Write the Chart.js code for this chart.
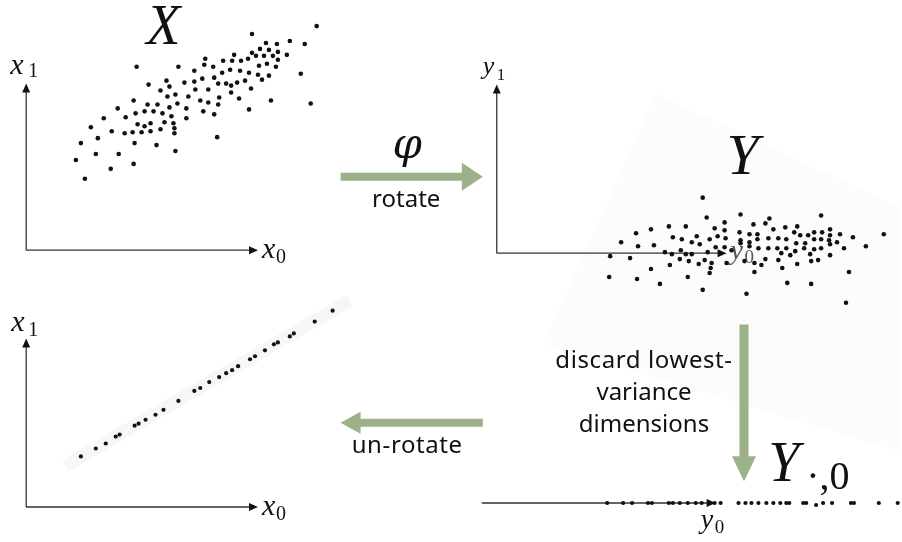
<!DOCTYPE html>
<html><head><meta charset="utf-8">
<script src="https://cdn.jsdelivr.net/npm/chart.js@4.4.1/dist/chart.umd.min.js"></script>
<style>html,body{margin:0;padding:0;background:#fff;overflow:hidden}#wrap{position:relative;width:902px;height:542px}
.pre{position:absolute;left:-2000px;top:0;font-size:20px}</style>
</head><body>
<span class="pre" style="font-family:'Liberation Serif';font-style:italic">Xx</span>
<span class="pre" style="font-family:'Liberation Serif'">01</span>
<span class="pre" style="font-family:'DejaVu Serif';font-style:italic">φ</span>
<span class="pre" style="font-family:'Noto Sans'">rotate</span>
<div id="wrap"><canvas id="c"></canvas></div>
<script>
// ---- data (abstract units) ----
// X : original 2-D data
const originalX0 = [292,227,265,280,241,252,235,244,253,262,227,209,
231,239,248,223,180,198,207,216,253,179,188,153,
111,234,242,251,169,205,215,197,224,233,244,237,
276,189,177,159,141,123,169,193,201,212,220,206,
226,183,170,135,144,206,214,246,286,163,175,183,
194,193,150,142,132,122,108,152,144,128,119,110,
92,78,100,161,161,178,189,224,137,146,112,119,
125,139,148,149,149,135,125,116,107,99,86,65,
55,72,109,131,192,150,93,70,50,108,85,59];
const originalX1 = [226,218,211,208,209,208,203,202,200,197,199,197,
196,196,196,193,193,191,191,191,192,187,185,185,
185,186,188,185,181,182,181,179,179,177,176,172,
178,174,173,169,171,167,170,168,168,169,171,166,
163,162,162,161,165,159,153,151,148,155,151,149,
154,147,157,155,147,147,151,148,144,140,140,138,
143,133,134,143,133,140,137,142,138,135,127,125,
128,129,128,123,118,122,120,119,119,118,120,124,
108,113,108,106,114,100,97,97,91,87,82,72];
// Y : rotated data
const rotatedY0 = [208,212,246,327,275,271,259,230,191,174,156,141,
126,143,159,220,230,245,255,263,279,291,303,300,
306,314,320,328,336,336,346,359,390,372,350,343,
335,327,320,311,302,292,284,274,263,255,246,231,
223,215,202,197,205,187,178,170,177,186,191,197,
213,221,230,237,246,255,264,274,283,292,301,310,
320,327,336,287,296,316,336,115,135,156,175,185,
194,204,210,217,216,215,232,250,260,267,271,284,
288,303,317,324,260,355,114,142,165,193,208,252,
293,317,352];
const rotatedY1 = [56,36,39,38,35,30,29,31,27,27,24,20,
11,7,8,25,23,21,19,19,24,26,27,21,
18,18,21,21,24,18,19,16,19,7,5,11,
13,14,14,10,10,14,15,15,14,11,13,15,
17,14,17,11,9,14,16,1,-1,3,-1,-1,
1,6,6,3,10,7,5,5,5,5,2,5,
4,5,9,0,-2,-1,-2,-3,-5,-16,-12,-6,
-8,-11,-7,-10,-15,-20,-10,-8,-10,-12,-6,-7,
-15,-11,-8,-7,-19,-19,-24,-26,-31,-24,-37,-41,
-30,-31,-50];
// Y[:,0] : kept dimension only
const projectedY0 = [112,128,137,153,157,174,178,185,193,201,207,220,226,244,251,257,264,272,279,286,292,295,309,312,322,329,338,357,360,385,404];
const projectedY1 = [0,0,0,0,0,0,0,0,0,0,0,0,0,0,0,0,0,0,0,0,0,0,0,0,-2,0,0,0,0,0,0];
// un-rotated reconstruction
const reconstructedX0 = [55,70,80,90,94,109,113,120,130,138,153,169,175,184,194,201,207,213,225,230,240,249,253,265,269,290,308];
const reconstructedX1 = [51,59,64,71,73,82,84,88,93,98,107,117,120,126,131,135,138,142,149,152,158,164,166,172,175,187,198];

const stepLabels = ['rotate', 'un-rotate', ['discard lowest-', 'variance', 'dimensions']];

// ---- styles ----
const ink = '#111111';
const axisInk = '#333333';
const green = '#9cb089';
const serifIt = 'italic {s}px "Liberation Serif"';
const serifUp = '{s}px "Liberation Serif"';
const sans = '{s}px "Noto Sans"';
const f = (t, s) => t.replace('{s}', s);

function pts(xs, ys) { return xs.map((v, i) => ({x: v, y: ys[i]})); }

function P(chart, xId, yId, x, y) {
  return [chart.scales[xId].getPixelForValue(x), chart.scales[yId].getPixelForValue(y)];
}
function axisArrow(ctx, a, b) {
  const ang = Math.atan2(b[1] - a[1], b[0] - a[0]);
  const L = 9, W = 4, c = Math.cos(ang), s = Math.sin(ang);
  ctx.save();
  ctx.strokeStyle = axisInk; ctx.lineWidth = 1.3;
  ctx.beginPath(); ctx.moveTo(a[0], a[1]); ctx.lineTo(b[0] - c * L * 0.7, b[1] - s * L * 0.7); ctx.stroke();
  ctx.fillStyle = ink; ctx.beginPath();
  ctx.moveTo(b[0], b[1]);
  ctx.lineTo(b[0] - c * L - s * W, b[1] - s * L + c * W);
  ctx.lineTo(b[0] - c * L + s * W, b[1] - s * L - c * W);
  ctx.closePath(); ctx.fill(); ctx.restore();
}
function blockArrow(ctx, a, b, sh, hh, hl) {
  const dx = b[0] - a[0], dy = b[1] - a[1], len = Math.hypot(dx, dy);
  const ux = dx / len, uy = dy / len, nx = -uy, ny = ux;
  const bx = b[0] - ux * hl, by = b[1] - uy * hl;
  ctx.save(); ctx.fillStyle = green; ctx.beginPath();
  ctx.moveTo(a[0] + nx * sh, a[1] + ny * sh);
  ctx.lineTo(bx + nx * sh, by + ny * sh);
  ctx.lineTo(bx + nx * hh, by + ny * hh);
  ctx.lineTo(b[0], b[1]);
  ctx.lineTo(bx - nx * hh, by - ny * hh);
  ctx.lineTo(bx - nx * sh, by - ny * sh);
  ctx.lineTo(a[0] - nx * sh, a[1] - ny * sh);
  ctx.closePath(); ctx.fill(); ctx.restore();
}
function text(ctx, str, p, font, color, align, spacing) {
  ctx.save(); ctx.font = font; ctx.fillStyle = color || ink;
  ctx.textAlign = align || 'left'; ctx.textBaseline = 'alphabetic';
  ctx.letterSpacing = spacing || '0px';
  ctx.fillText(str, p[0], p[1]); ctx.restore();
}

const diagram = {
  id: 'diagram',
  beforeDatasetsDraw(chart) {
    const ctx = chart.ctx;
    const Q = (x, y, a, b) => P(chart, x, y, a, b);
    // faint rotated frame behind Y
    ctx.save(); ctx.fillStyle = '#fcfcfc'; ctx.beginPath();
    [[161,161],[406,46],[406,-200],[48,-92]].forEach((v, i) => {
      const p = Q('xB','yB',v[0],v[1]); i ? ctx.lineTo(p[0], p[1]) : ctx.moveTo(p[0], p[1]);
    });
    ctx.closePath(); ctx.fill(); ctx.restore();
    // faint band behind reconstructed points
    ctx.save(); ctx.strokeStyle = '#f7f7f7'; ctx.lineWidth = 13; ctx.lineCap = 'butt';
    const b0 = Q('xA','yC',40,42), b1 = Q('xA','yC',325,208);
    ctx.beginPath(); ctx.moveTo(b0[0], b0[1]); ctx.lineTo(b1[0], b1[1]); ctx.stroke(); ctx.restore();
    // axes
    axisArrow(ctx, Q('xA','yA',0,0), Q('xA','yA',0,168));
    axisArrow(ctx, Q('xA','yA',0,0), Q('xA','yA',233,0));
    axisArrow(ctx, Q('xB','yB',1,0), Q('xB','yB',1,170));
    axisArrow(ctx, Q('xB','yB',1,0), Q('xB','yB',232,0));
    axisArrow(ctx, Q('xA','yC',0,0), Q('xA','yC',0,170));
    axisArrow(ctx, Q('xA','yC',0,0), Q('xA','yC',233,0));
    axisArrow(ctx, Q('xB','yD',-14,0), Q('xB','yD',221,0));
    // y0 label of Y panel (under points)
    text(ctx, 'y', Q('xB','yB',236,-6), f(serifIt, 28), '#555');
    text(ctx, '0', Q('xB','yB',250,-10), f(serifUp, 19), '#555');
  },
  afterDatasetsDraw(chart) {
    const ctx = chart.ctx;
    const Q = (x, y, a, b) => P(chart, x, y, a, b);
    // panel titles
    text(ctx, 'X', Q('xA','yA',138,208), f(serifIt, 56), ink, 'center');
    text(ctx, 'Y', Q('xB','yB',248,80), f(serifIt, 58), ink, 'center');
    text(ctx, 'Y', Q('xB','yD',274,22), f(serifIt, 56), ink, 'left');
    text(ctx, '·,0', Q('xB','yD',312,14), f(serifUp, 40), ink, 'left');
    // axis labels
    text(ctx, 'x', Q('xA','yA',-16,178), f(serifIt, 30));
    text(ctx, '1', Q('xA','yA',2,175), f(serifUp, 20));
    text(ctx, 'x', Q('xA','yA',237,-8), f(serifIt, 30));
    text(ctx, '0', Q('xA','yA',251,-13), f(serifUp, 20));
    text(ctx, 'y', Q('xB','yB',-13,181), f(serifIt, 26));
    text(ctx, '1', Q('xB','yB',1,175), f(serifUp, 17));
    text(ctx, 'x', Q('xA','yC',-15,177), f(serifIt, 30));
    text(ctx, '1', Q('xA','yC',2,172), f(serifUp, 20));
    text(ctx, 'x', Q('xA','yC',237,-8), f(serifIt, 30));
    text(ctx, '0', Q('xA','yC',251,-13), f(serifUp, 20));
    text(ctx, 'y', Q('xB','yD',206,-25), f(serifIt, 28));
    text(ctx, '0', Q('xB','yD',220,-30), f(serifUp, 19));
    // step arrows
    blockArrow(ctx, Q('xA','yA',316,74), Q('xA','yA',459,74), 4, 14, 21);
    text(ctx, 'φ', Q('xA','yA',383,93), 'italic 42px "DejaVu Serif"', ink, 'center');
    text(ctx, stepLabels[0], Q('xA','yA',382,44), f(sans, 24), ink, 'center');
    blockArrow(ctx, Q('xA','yC',459,85), Q('xA','yC',316,85), 4, 11, 20);
    text(ctx, stepLabels[1], Q('xA','yC',383,54), f(sans, 24), ink, 'center', '0.6px');
    blockArrow(ctx, Q('xB','yD',249.5,180), Q('xB','yD',249.5,22), 4.5, 12, 25);
    stepLabels[2].forEach((s, i) => text(ctx, s, Q('xB','yD',149,136 - 32 * i), f(sans, 24), ink, 'center', i ? '0px' : '0.6px'));
  }
};

const dot = {type: 'scatter', pointRadius: 2.3, pointHoverRadius: 2.3, pointBackgroundColor: ink, pointBorderWidth: 0, showLine: false, clip: false};

const chart = new Chart(document.getElementById('c'), {
  type: 'scatter',
  data: {
    datasets: [
      Object.assign({label: 'X', data: pts(originalX0, originalX1), xAxisID: 'xA', yAxisID: 'yA'}, dot),
      Object.assign({label: 'Y', data: pts(rotatedY0, rotatedY1), xAxisID: 'xB', yAxisID: 'yB'}, dot),
      Object.assign({label: 'reconstructed', data: pts(reconstructedX0, reconstructedX1), xAxisID: 'xA', yAxisID: 'yC'}, dot, {pointRadius: 2.1}),
      Object.assign({label: 'Y[:,0]', data: pts(projectedY0, projectedY1), xAxisID: 'xB', yAxisID: 'yD'}, dot, {pointRadius: 2.1})
    ]
  },
  options: {
    responsive: true, maintainAspectRatio: false, animation: false, events: [],
    layout: {padding: 0},
    plugins: {legend: {display: false}, tooltip: {enabled: false}},
    scales: {
      xA: {type: 'linear', position: 'bottom', display: false, min: -24, max: 878},
      yA: {type: 'linear', position: 'left', display: false, min: -292, max: 250},
      yC: {type: 'linear', position: 'left', display: false, min: -33, max: 509},
      xB: {type: 'linear', position: 'bottom', display: false, min: -496, max: 406},
      yB: {type: 'linear', position: 'left', display: false, min: -289, max: 253},
      yD: {type: 'linear', position: 'left', display: false, min: -37, max: 505}
    }
  },
  plugins: [diagram]
});
if (document.fonts) {
  Promise.all(['italic 56px "Liberation Serif"', '20px "Liberation Serif"', 'italic 42px "DejaVu Serif"', '24px "Noto Sans"']
    .map(s => document.fonts.load(s))).then(() => chart.draw(), () => chart.draw());
  document.fonts.ready.then(() => chart.draw());
}
</script>
</body></html>
